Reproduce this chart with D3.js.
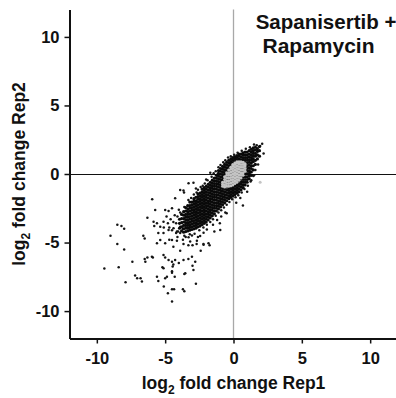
<!DOCTYPE html>
<html>
<head>
<meta charset="utf-8">
<script src="https://cdn.jsdelivr.net/npm/d3@7"></script>
<style>
  body { margin: 0; background: #fff; }
  svg { display: block; font-family: "Liberation Sans", Arial, sans-serif; font-weight: bold; }
</style>
</head>
<body>
<div id="chart"></div>
<script>
// tick values on both axes
var ticks = [-10, -5, 0, 5, 10];

// sparse points away from the main cloud (log2 FC rep1, rep2)
var outlierPts = [
  [-9.45,-6.9],[-9.0,-4.5],[-8.5,-3.7],[-8.2,-3.8],[-8.0,-4.0],[-8.5,-5.1],[-8.0,-5.5],
  [-8.4,-6.8],[-7.9,-7.9],[-7.4,-6.4],[-7.2,-7.4],[-7.05,-7.6],[-6.8,-7.6],[-6.7,-7.85],
  [-6.6,-4.5],[-6.5,-4.7],[-6.5,-6.2],[-6.45,-6.4],[-6.3,-6.1],[-6.3,-3.2],[-5.9,-6.1],
  [-5.95,-1.85],[-5.8,-3.8],[-5.6,-7.5],[-5.5,-7.8],[-5.5,-4.3],[-5.2,-6.8],[-5.1,-8.2],
  [-5.0,-6.1],[-5.0,-7.6],[-4.8,-8.7],[-4.5,-9.3],[-4.5,-8.4],[-4.35,-8.4],[-4.5,-7.2],
  [-4.3,-7.5],[-4.4,-6.6],[-4.45,-6.75],[-4.0,-6.5],[-3.7,-8.4],[-3.6,-8.55],[-3.6,-7.3],
  [-2.75,-8.0],[-3.3,-6.2],[-3.0,-6.7],[-3.3,-5.2],[-3.0,-5.2],[-1.75,-5.2],[-2.2,-5.1],
  [-2.7,-5.1],[-3.9,-5.6],[-4.4,-5.3],[-4.7,-4.8],[-5.1,-3.9],[-4.7,-3.9],[-4.5,-4.1],
  [-4.2,-4.3],[-4.1,-4.6],[-3.9,-4.3],[-3.7,-4.0],[-3.5,-4.6],[-3.7,-4.8],
  [-4.27,-1.77],[-3.66,-1.2],[-3.62,-1.35],[-5.73,-2.62],[-5.85,-3.48],[-5.6,-3.6],
  [-5.12,-3.48],[-5.0,-2.62],[-4.75,-2.7],[-4.5,-2.5],[-5.36,-3.84],[-5.12,-4.3],
  [-4.75,-4.08],[-4.39,-3.96],[-4.14,-4.2],[-3.9,-3.84],[-3.29,-4.62],[-3.04,-4.48],
  [-2.68,-4.87],[-2.44,-4.52],[-2.19,-4.28],[-1.95,-4.04],[-1.83,-5.05],[-2.19,-5.17],
  [-3.17,-4.93],[-3.66,-5.11],[-4.14,-4.87],[-4.5,-4.81],[-5.0,-5.05],[-5.36,-4.81],
  [-5.6,-5.05],[-5.97,-6.03],[-5.12,-5.9],[-4.75,-6.27],[-4.5,-6.4],[-4.27,-6.27],
  [-3.66,-6.27],[-3.04,-6.03],[-2.8,-6.4],[-2.93,-7.0],[-3.53,-7.24],[-4.5,-7.1],
  [-5.12,-6.87],[-4.87,-7.5],[-0.97,-4.08],[-1.2,-3.35],[-0.5,-2.87],[-3.9,-1.17],
  [-3.29,-0.68],[-2.93,-0.63],[-4.6,-3.3],[-4.3,-3.0],[-4.9,-3.1],[-4.0,-2.6],
  [-4.4,-3.5],[-4.8,-3.6],[-2.4,-5.6],[-1.4,-4.2],[-1.0,-3.6],
  [2.1,2.2],[2.2,1.5],[1.95,2.05],[1.5,-0.1],[1.3,-0.45],[0.69,-2.3],[1.0,-1.3],[0.5,-1.75]
];

// points along the edges of the main cloud
var fringePts = [
  [-3.3,-1.9],[-2.9,-1.5],[-2.6,-1.15],[-2.4,-0.95],[-2.1,-0.7],[-1.9,-0.45],[-1.6,-0.2],
  [-1.45,0.05],[-1.3,0.2],[-1.1,0.5],[-0.95,0.65],[-0.75,0.85],[-0.6,1.0],[-0.4,1.2],
  [-0.2,1.3],[0.05,1.4],[0.3,1.55],[0.6,1.7],[0.9,1.85],[1.2,1.95],[1.5,2.15],[1.7,2.1],
  [-3.1,-1.75],[-2.7,-1.35],[-2.25,-0.85],[-3.6,-2.4],[-3.9,-2.8],[-4.1,-3.1],[-4.2,-3.6],
  [-4.05,-4.2],[-2.75,-1.05],[-2.0,-0.4],[-1.7,0.1],
  [-3.6,-4.5],[-3.2,-4.4],[-2.85,-4.35],[-2.5,-4.1],[-2.2,-3.9],[-1.95,-3.7],[-1.7,-3.5],
  [-1.5,-3.3],[-1.3,-3.05],[-1.1,-2.8],[-0.9,-2.65],[-0.7,-2.45],[-0.5,-2.25],[-0.3,-2.05],
  [-0.1,-1.85],[0.15,-1.7],[0.35,-1.55],[0.6,-1.35],[0.8,-1.1],[1.05,-0.85],[1.25,-0.55],
  [1.45,-0.15],[1.6,0.3],[1.8,0.7],[-1.5,-3.7],[-0.9,-3.1],[-0.6,-2.8],[0.2,-2.1],[-2.6,-4.6]
];

// dense part of the cloud, read column by column: [rep1, [rep2 values]]
var bandCols = [
  [-3.95, [-3.95,-3.6,-3.3]],
  [-3.8, [-4.15,-3.85,-3.55,-3.25,-2.95]],
  [-3.65, [-4.25,-4.0,-3.75,-3.5,-3.25,-3.0,-2.75]],
  [-3.5, [-4.2,-3.95,-3.75,-3.55,-3.35,-3.15,-2.95,-2.7,-2.45]],
  [-3.35, [-4.15,-3.95,-3.75,-3.55,-3.35,-3.15,-2.95,-2.75,-2.55,-2.3]],
  [-3.2, [-4.1,-3.9,-3.7,-3.5,-3.3,-3.1,-2.9,-2.7,-2.5,-2.3,-2.05]],
  [-3.05, [-4.05,-3.85,-3.65,-3.45,-3.25,-3.05,-2.85,-2.65,-2.45,-2.25,-2.05]],
  [-2.9, [-4.0,-3.8,-3.6,-3.4,-3.2,-3.0,-2.8,-2.6,-2.4,-2.2,-2.0,-1.8]],
  [-2.75, [-3.95,-3.75,-3.55,-3.35,-3.15,-2.95,-2.75,-2.55,-2.35,-2.15,-1.95,-1.7]],
  [-2.6, [-3.85,-3.65,-3.45,-3.25,-3.05,-2.85,-2.65,-2.45,-2.25,-2.05,-1.85,-1.65,-1.45]],
  [-2.45, [-3.8,-3.6,-3.4,-3.2,-3.0,-2.8,-2.6,-2.4,-2.2,-2.0,-1.8,-1.6,-1.4]],
  [-2.3, [-3.7,-3.5,-3.3,-3.1,-2.9,-2.7,-2.5,-2.3,-2.1,-1.9,-1.7,-1.5,-1.3,-1.1]],
  [-2.15, [-3.6,-3.4,-3.2,-3.0,-2.8,-2.6,-2.4,-2.2,-2.0,-1.8,-1.6,-1.4,-1.2,-1.0]],
  [-2.0, [-3.5,-3.3,-3.1,-2.9,-2.7,-2.5,-2.3,-2.1,-1.9,-1.7,-1.5,-1.3,-1.1,-0.9]],
  [-1.85, [-3.35,-3.15,-2.95,-2.75,-2.55,-2.35,-2.15,-1.95,-1.75,-1.55,-1.35,-1.15,-0.95,-0.75]],
  [-1.7, [-3.2,-3.0,-2.8,-2.6,-2.4,-2.2,-2.0,-1.8,-1.6,-1.4,-1.2,-1.0,-0.8,-0.6]],
  [-1.55, [-3.05,-2.85,-2.65,-2.45,-2.25,-2.05,-1.85,-1.65,-1.45,-1.25,-1.05,-0.85,-0.65,-0.45]],
  [-1.4, [-2.9,-2.7,-2.5,-2.3,-2.1,-1.9,-1.7,-1.5,-1.3,-1.1,-0.9,-0.7,-0.5,-0.3]],
  [-1.25, [-2.7,-2.5,-2.3,-2.1,-1.9,-1.7,-1.5,-1.3,-1.1,-0.9,-0.7,-0.5,-0.3,-0.1]],
  [-1.1, [-2.55,-2.35,-2.15,-1.95,-1.75,-1.55,-1.35,-1.15,-0.95,-0.75,-0.55,-0.35,-0.15,0.05,0.25]],
  [-0.95, [-2.4,-2.2,-2.0,-1.8,-1.6,-1.4,-1.2,-1.0,-0.8,-0.6,-0.4,-0.2,0.0,0.2,0.4]],
  [-0.8, [-2.25,-2.05,-1.85,-1.65,-1.45,-1.25,-1.05,-0.85,-0.65,-0.45,-0.25,-0.05,0.15,0.35,0.55]],
  [-0.65, [-2.1,-1.9,-1.7,-1.5,-1.3,-1.1,-0.9,-0.7,-0.5,-0.3,-0.1,0.1,0.3,0.5,0.7]],
  [-0.5, [-1.95,-1.75,-1.55,-1.35,-1.15,-0.95,-0.75,-0.55,-0.35,-0.15,0.05,0.25,0.45,0.65,0.85]],
  [-0.35, [-1.8,-1.6,-1.4,-1.2,-1.0,-0.8,-0.6,-0.4,-0.2,0.0,0.2,0.4,0.6,0.8,1.0]],
  [-0.2, [-1.7,-1.5,-1.3,-1.1,-0.9,-0.7,-0.5,-0.3,-0.1,0.1,0.3,0.5,0.7,0.9,1.1]],
  [-0.05, [-1.6,-1.4,-1.2,-1.0,-0.8,-0.6,-0.4,-0.2,0.0,0.2,0.4,0.6,0.8,1.0,1.2]],
  [0.1, [-1.5,-1.3,-1.1,-0.9,-0.7,-0.5,-0.3,-0.1,0.1,0.3,0.5,0.7,0.9,1.1,1.25]],
  [0.25, [-1.4,-1.2,-1.0,-0.8,-0.6,-0.4,-0.2,0.0,0.2,0.4,0.6,0.8,1.0,1.2,1.35]],
  [0.4, [-1.3,-1.1,-0.9,-0.7,-0.5,-0.3,-0.1,0.1,0.3,0.5,0.7,0.9,1.1,1.3,1.45]],
  [0.55, [-1.15,-0.95,-0.75,-0.55,-0.35,-0.15,0.05,0.25,0.45,0.65,0.85,1.05,1.25,1.45]],
  [0.7, [-1.0,-0.8,-0.6,-0.4,-0.2,0.0,0.2,0.4,0.6,0.8,1.0,1.2,1.4,1.55]],
  [0.85, [-0.8,-0.6,-0.4,-0.2,0.0,0.2,0.4,0.6,0.8,1.0,1.2,1.4,1.6]],
  [1.0, [-0.6,-0.4,-0.2,0.0,0.2,0.4,0.6,0.8,1.0,1.2,1.4,1.6]],
  [1.15, [-0.35,-0.15,0.05,0.25,0.45,0.65,0.85,1.05,1.25,1.45,1.7]],
  [1.3, [-0.1,0.15,0.4,0.6,0.8,1.0,1.2,1.4,1.6,1.8]],
  [1.45, [0.3,0.6,0.9,1.1,1.3,1.5,1.7,1.9]],
  [1.6, [0.7,1.0,1.3,1.5,1.75,1.95]],
  [1.75, [1.1,1.4,1.65,1.85]],
  [1.9, [1.3,1.7,2.0]]
];

// grey points in the centre of the cloud
var coreCols = [
  [-0.8, [-0.9,-0.75,-0.6]],
  [-0.65, [-0.95,-0.8,-0.6,-0.4,-0.2]],
  [-0.5, [-0.9,-0.7,-0.5,-0.3,-0.1,0.1]],
  [-0.35, [-0.9,-0.7,-0.5,-0.3,-0.1,0.1,0.3]],
  [-0.2, [-0.85,-0.65,-0.45,-0.25,-0.05,0.15,0.35,0.5]],
  [-0.05, [-0.8,-0.6,-0.4,-0.2,0.0,0.2,0.4,0.6,0.7]],
  [0.1, [-0.7,-0.5,-0.3,-0.1,0.1,0.3,0.5,0.7,0.8]],
  [0.25, [-0.6,-0.4,-0.2,0.0,0.2,0.4,0.6,0.8,0.9]],
  [0.4, [-0.45,-0.25,-0.05,0.15,0.35,0.55,0.75,0.9]],
  [0.55, [-0.3,-0.1,0.1,0.3,0.5,0.7,0.9]],
  [0.7, [-0.1,0.1,0.3,0.5,0.7,0.85]],
  [0.85, [0.2,0.4,0.6,0.75]],
  [1.95, [-0.6]]
];

function flattenCols(cols) {
    var out = [];
    cols.forEach(function(c) {
        c[1].forEach(function(v) { out.push([c[0], v]); });
    });
    return out;
}

var W = 396, H = 398;
var x = d3.scaleLinear().domain([-12, 12]).range([69.5, 397.5]);
var y = d3.scaleLinear().domain([-12, 12]).range([338.5, 9.5]);

var svg = d3.select("#chart").append("svg")
    .attr("width", W).attr("height", H);

// zero lines
svg.append("line")
    .attr("x1", x(0)).attr("x2", x(0))
    .attr("y1", y(12)).attr("y2", y(-12))
    .attr("stroke", "#a8a8a8").attr("stroke-width", 1.3);
svg.append("line")
    .attr("x1", x(-12)).attr("x2", W)
    .attr("y1", y(0) + 0.5).attr("y2", y(0) + 0.5)
    .attr("stroke", "#111").attr("stroke-width", 1);

// points
var loose = outlierPts.concat(fringePts);
svg.append("g").selectAll("circle")
    .data(loose).enter().append("circle")
    .attr("cx", function(d) { return x(d[0]); })
    .attr("cy", function(d) { return y(d[1]); })
    .attr("r", 1.25)
    .attr("fill", "#151515");

svg.append("g").selectAll("circle")
    .data(flattenCols(bandCols)).enter().append("circle")
    .attr("cx", function(d) { return x(d[0]); })
    .attr("cy", function(d) { return y(d[1]); })
    .attr("r", 1.6)
    .attr("fill", "#0a0a0a");

svg.append("g").selectAll("circle")
    .data(flattenCols(coreCols)).enter().append("circle")
    .attr("cx", function(d) { return x(d[0]); })
    .attr("cy", function(d) { return y(d[1]); })
    .attr("r", 1.5)
    .attr("fill", "#c4c4c4");

// axes
var fmt = function(d) { return String(d); };
var xAxis = svg.append("g")
    .attr("transform", "translate(0," + y(-12) + ")")
    .call(d3.axisBottom(x).tickValues(ticks).tickFormat(fmt)
        .tickSize(5).tickSizeOuter(0).tickPadding(9));
var yAxis = svg.append("g")
    .attr("transform", "translate(" + x(-12) + ",0)")
    .call(d3.axisLeft(y).tickValues(ticks).tickFormat(fmt)
        .tickSize(5).tickSizeOuter(0).tickPadding(5));

[xAxis, yAxis].forEach(function(a) {
    a.select(".domain").attr("stroke", "#111").attr("stroke-width", 2);
    a.selectAll(".tick line").attr("stroke", "#111").attr("stroke-width", 1.5);
    a.selectAll(".tick text")
        .attr("fill", "#111")
        .style("font-family", "'Liberation Sans', Arial, sans-serif")
        .style("font-weight", "bold")
        .style("font-size", "16.5px");
});

// axis titles
var xt = svg.append("text")
    .attr("x", x(0)).attr("y", 389)
    .attr("text-anchor", "middle")
    .style("font-size", "17.5px").attr("fill", "#111");
xt.append("tspan").text("log");
xt.append("tspan").text("2").style("font-size", "12px").attr("dy", 5);
xt.append("tspan").text(" fold change Rep1").attr("dy", -5);

var yt = svg.append("text")
    .attr("transform", "translate(25," + y(0) + ") rotate(-90)")
    .attr("text-anchor", "middle")
    .style("font-size", "17.5px").attr("fill", "#111");
yt.append("tspan").text("log");
yt.append("tspan").text("2").style("font-size", "12px").attr("dy", 5);
yt.append("tspan").text(" fold change Rep2").attr("dy", -5);

// panel label
svg.append("text")
    .attr("x", 326).attr("y", 29)
    .attr("text-anchor", "middle")
    .style("font-size", "20.5px").attr("fill", "#111")
    .text("Sapanisertib +");
svg.append("text")
    .attr("x", 318.5).attr("y", 53)
    .attr("text-anchor", "middle")
    .style("font-size", "21px").attr("fill", "#111")
    .text("Rapamycin");
</script>
</body>
</html>
